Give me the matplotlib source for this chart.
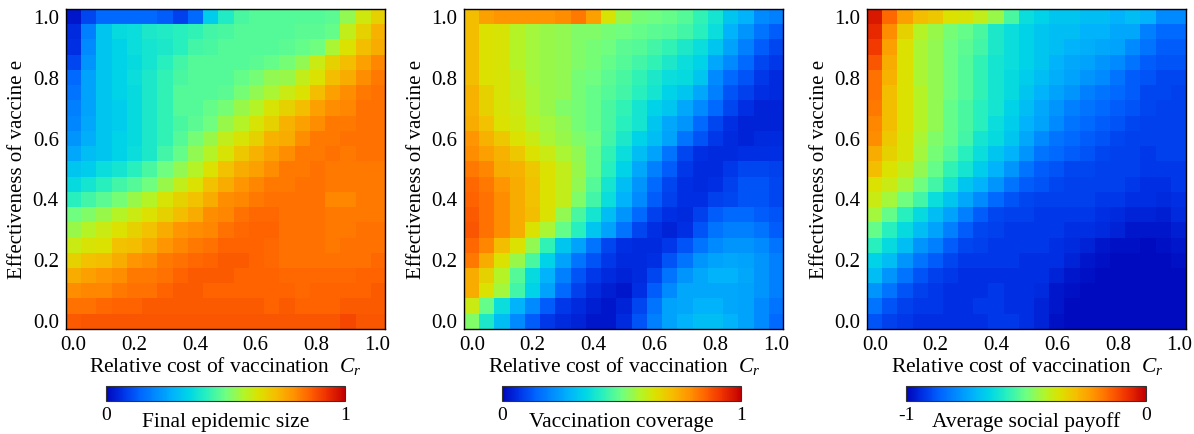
import numpy as np
import matplotlib
matplotlib.use("Agg")
import matplotlib.pyplot as plt
from matplotlib.colors import LinearSegmentedColormap

plt.rcParams['font.family'] = 'Liberation Serif'
plt.rcParams['mathtext.fontset'] = 'custom'
plt.rcParams['mathtext.rm'] = 'Liberation Serif'
plt.rcParams['mathtext.it'] = 'Liberation Serif:italic'

# grid: relative cost (columns) and vaccine effectiveness (rows, from e=1.0 down to e=0.0)
cost = np.linspace(0, 1, 21)
effect = np.linspace(1, 0, 21)
ticks = [0.0, 0.2, 0.4, 0.6, 0.8, 1.0]

final_size = [
    [0.03,0.10,0.15,0.15,0.15,0.15,0.13,0.09,0.15,0.33,0.41,0.46,0.47,0.47,0.47,0.47,0.47,0.48,0.54,0.62,0.67],
    [0.06,0.19,0.32,0.36,0.37,0.40,0.41,0.42,0.43,0.45,0.46,0.47,0.47,0.47,0.47,0.48,0.48,0.49,0.60,0.67,0.73],
    [0.07,0.21,0.32,0.34,0.37,0.39,0.40,0.42,0.45,0.46,0.47,0.47,0.47,0.47,0.48,0.49,0.50,0.57,0.64,0.71,0.74],
    [0.10,0.23,0.32,0.34,0.36,0.39,0.42,0.45,0.47,0.47,0.47,0.47,0.48,0.49,0.51,0.54,0.61,0.67,0.71,0.76,0.80],
    [0.15,0.25,0.32,0.34,0.37,0.40,0.43,0.46,0.47,0.47,0.47,0.49,0.51,0.54,0.55,0.60,0.64,0.71,0.74,0.79,0.82],
    [0.17,0.25,0.32,0.34,0.36,0.40,0.43,0.47,0.47,0.47,0.48,0.51,0.54,0.57,0.61,0.64,0.71,0.76,0.79,0.82,0.83],
    [0.19,0.25,0.32,0.33,0.36,0.40,0.43,0.47,0.47,0.49,0.51,0.55,0.58,0.63,0.67,0.71,0.76,0.79,0.80,0.83,0.83],
    [0.20,0.26,0.32,0.33,0.36,0.40,0.43,0.46,0.48,0.50,0.55,0.58,0.63,0.67,0.73,0.76,0.79,0.82,0.82,0.83,0.83],
    [0.23,0.27,0.32,0.34,0.36,0.40,0.43,0.47,0.51,0.55,0.60,0.63,0.67,0.73,0.74,0.79,0.82,0.82,0.83,0.83,0.83],
    [0.26,0.30,0.32,0.34,0.37,0.40,0.45,0.49,0.54,0.58,0.63,0.69,0.73,0.76,0.79,0.82,0.82,0.83,0.82,0.83,0.83],
    [0.32,0.33,0.37,0.39,0.42,0.46,0.50,0.54,0.58,0.64,0.70,0.74,0.76,0.79,0.82,0.82,0.83,0.82,0.82,0.82,0.82],
    [0.36,0.39,0.42,0.45,0.47,0.50,0.55,0.60,0.64,0.70,0.74,0.78,0.80,0.82,0.82,0.83,0.83,0.82,0.82,0.82,0.82],
    [0.42,0.45,0.48,0.51,0.55,0.58,0.63,0.67,0.70,0.74,0.79,0.80,0.82,0.83,0.83,0.83,0.83,0.80,0.80,0.82,0.82],
    [0.50,0.52,0.55,0.58,0.61,0.64,0.67,0.71,0.74,0.79,0.80,0.83,0.84,0.84,0.83,0.83,0.83,0.82,0.82,0.82,0.82],
    [0.55,0.58,0.61,0.64,0.67,0.70,0.74,0.78,0.79,0.80,0.83,0.84,0.85,0.85,0.83,0.83,0.83,0.82,0.82,0.83,0.83],
    [0.61,0.63,0.64,0.70,0.71,0.74,0.78,0.80,0.82,0.83,0.85,0.85,0.85,0.84,0.83,0.83,0.83,0.82,0.83,0.83,0.83],
    [0.67,0.70,0.71,0.74,0.78,0.79,0.82,0.83,0.84,0.85,0.86,0.86,0.85,0.84,0.83,0.83,0.83,0.83,0.83,0.83,0.84],
    [0.74,0.76,0.78,0.79,0.82,0.82,0.83,0.85,0.86,0.86,0.86,0.85,0.85,0.85,0.84,0.84,0.84,0.84,0.84,0.85,0.85],
    [0.79,0.80,0.80,0.82,0.83,0.83,0.85,0.86,0.86,0.85,0.85,0.85,0.85,0.85,0.85,0.84,0.85,0.85,0.85,0.85,0.86],
    [0.83,0.83,0.84,0.85,0.85,0.86,0.86,0.86,0.86,0.86,0.86,0.86,0.86,0.85,0.86,0.85,0.85,0.85,0.86,0.86,0.86],
    [0.86,0.87,0.87,0.87,0.87,0.87,0.87,0.87,0.87,0.87,0.87,0.87,0.87,0.87,0.87,0.87,0.87,0.87,0.89,0.87,0.87],
]

coverage = [
    [0.71,0.76,0.78,0.78,0.78,0.78,0.79,0.82,0.76,0.63,0.55,0.51,0.50,0.49,0.47,0.43,0.39,0.32,0.28,0.21,0.19],
    [0.71,0.64,0.63,0.58,0.56,0.55,0.54,0.52,0.52,0.51,0.50,0.49,0.48,0.47,0.45,0.42,0.37,0.28,0.23,0.17,0.13],
    [0.71,0.64,0.63,0.58,0.56,0.55,0.54,0.52,0.51,0.50,0.48,0.47,0.45,0.43,0.40,0.37,0.32,0.25,0.19,0.13,0.10],
    [0.71,0.64,0.63,0.58,0.56,0.55,0.54,0.52,0.51,0.49,0.47,0.45,0.43,0.40,0.37,0.34,0.26,0.21,0.15,0.10,0.08],
    [0.71,0.64,0.63,0.60,0.56,0.55,0.54,0.51,0.50,0.48,0.46,0.43,0.40,0.37,0.36,0.32,0.21,0.15,0.12,0.08,0.06],
    [0.73,0.67,0.63,0.60,0.57,0.55,0.54,0.51,0.49,0.47,0.45,0.42,0.39,0.34,0.32,0.26,0.19,0.12,0.09,0.07,0.06],
    [0.73,0.67,0.63,0.61,0.57,0.55,0.52,0.51,0.49,0.46,0.43,0.39,0.34,0.32,0.26,0.21,0.15,0.10,0.07,0.05,0.05],
    [0.74,0.70,0.64,0.62,0.58,0.56,0.54,0.51,0.49,0.46,0.42,0.39,0.32,0.26,0.23,0.15,0.10,0.07,0.05,0.05,0.05],
    [0.78,0.73,0.69,0.64,0.61,0.57,0.55,0.52,0.50,0.45,0.40,0.34,0.30,0.25,0.17,0.12,0.08,0.06,0.05,0.06,0.06],
    [0.79,0.76,0.73,0.69,0.64,0.61,0.57,0.54,0.49,0.43,0.37,0.30,0.25,0.17,0.10,0.07,0.06,0.06,0.07,0.07,0.07],
    [0.82,0.80,0.74,0.73,0.69,0.64,0.60,0.55,0.49,0.42,0.34,0.26,0.19,0.13,0.08,0.06,0.06,0.08,0.10,0.10,0.09],
    [0.84,0.82,0.78,0.74,0.70,0.64,0.60,0.54,0.47,0.39,0.30,0.23,0.15,0.10,0.07,0.06,0.07,0.09,0.12,0.12,0.10],
    [0.85,0.83,0.79,0.74,0.70,0.64,0.60,0.52,0.45,0.37,0.28,0.21,0.13,0.09,0.07,0.07,0.09,0.10,0.12,0.12,0.10],
    [0.86,0.83,0.79,0.74,0.71,0.64,0.54,0.46,0.39,0.30,0.23,0.15,0.09,0.07,0.06,0.09,0.13,0.15,0.15,0.13,0.12],
    [0.87,0.83,0.79,0.74,0.64,0.57,0.49,0.42,0.32,0.25,0.17,0.10,0.07,0.05,0.07,0.12,0.17,0.19,0.19,0.17,0.13],
    [0.84,0.80,0.71,0.64,0.54,0.43,0.32,0.25,0.17,0.10,0.07,0.06,0.06,0.08,0.12,0.17,0.21,0.23,0.23,0.21,0.17],
    [0.82,0.74,0.64,0.55,0.46,0.34,0.25,0.17,0.12,0.08,0.06,0.06,0.07,0.12,0.17,0.23,0.25,0.26,0.25,0.23,0.19],
    [0.74,0.67,0.58,0.47,0.36,0.28,0.19,0.12,0.08,0.06,0.05,0.06,0.10,0.17,0.23,0.26,0.28,0.28,0.26,0.23,0.19],
    [0.74,0.64,0.56,0.45,0.34,0.25,0.15,0.09,0.06,0.04,0.03,0.07,0.13,0.21,0.26,0.26,0.26,0.26,0.25,0.23,0.19],
    [0.61,0.49,0.37,0.28,0.21,0.13,0.08,0.06,0.04,0.03,0.05,0.10,0.17,0.25,0.26,0.28,0.28,0.26,0.25,0.21,0.17],
    [0.52,0.40,0.30,0.21,0.13,0.08,0.06,0.05,0.03,0.03,0.06,0.12,0.19,0.25,0.28,0.30,0.30,0.28,0.25,0.21,0.15],
]

payoff = [
    [-0.04,-0.16,-0.24,-0.29,-0.31,-0.36,-0.37,-0.40,-0.45,-0.54,-0.63,-0.66,-0.68,-0.68,-0.70,-0.70,-0.72,-0.70,-0.72,-0.79,-0.79],
    [-0.07,-0.21,-0.33,-0.42,-0.45,-0.49,-0.51,-0.54,-0.60,-0.63,-0.66,-0.68,-0.70,-0.70,-0.72,-0.72,-0.74,-0.74,-0.81,-0.85,-0.85],
    [-0.09,-0.24,-0.36,-0.43,-0.46,-0.50,-0.52,-0.55,-0.60,-0.63,-0.66,-0.68,-0.70,-0.72,-0.73,-0.74,-0.75,-0.79,-0.83,-0.87,-0.87],
    [-0.13,-0.26,-0.36,-0.43,-0.46,-0.50,-0.53,-0.57,-0.61,-0.63,-0.66,-0.68,-0.72,-0.74,-0.75,-0.77,-0.79,-0.83,-0.87,-0.88,-0.88],
    [-0.17,-0.27,-0.36,-0.43,-0.46,-0.50,-0.53,-0.57,-0.61,-0.64,-0.67,-0.70,-0.73,-0.75,-0.77,-0.79,-0.83,-0.87,-0.88,-0.90,-0.90],
    [-0.17,-0.29,-0.36,-0.42,-0.46,-0.50,-0.53,-0.57,-0.61,-0.64,-0.68,-0.72,-0.75,-0.77,-0.81,-0.83,-0.85,-0.87,-0.90,-0.90,-0.91],
    [-0.18,-0.29,-0.36,-0.42,-0.46,-0.51,-0.54,-0.58,-0.61,-0.66,-0.70,-0.74,-0.77,-0.81,-0.83,-0.85,-0.87,-0.88,-0.90,-0.91,-0.91],
    [-0.20,-0.29,-0.36,-0.42,-0.46,-0.51,-0.54,-0.58,-0.63,-0.67,-0.72,-0.75,-0.79,-0.83,-0.85,-0.87,-0.88,-0.90,-0.91,-0.91,-0.91],
    [-0.21,-0.31,-0.37,-0.43,-0.48,-0.51,-0.55,-0.61,-0.64,-0.68,-0.74,-0.79,-0.83,-0.85,-0.87,-0.88,-0.90,-0.91,-0.91,-0.91,-0.91],
    [-0.26,-0.33,-0.37,-0.44,-0.49,-0.53,-0.58,-0.63,-0.68,-0.72,-0.77,-0.83,-0.85,-0.87,-0.88,-0.90,-0.91,-0.91,-0.92,-0.91,-0.91],
    [-0.29,-0.36,-0.40,-0.46,-0.51,-0.57,-0.61,-0.67,-0.72,-0.77,-0.83,-0.87,-0.88,-0.90,-0.90,-0.91,-0.91,-0.91,-0.92,-0.92,-0.92],
    [-0.36,-0.39,-0.44,-0.50,-0.55,-0.61,-0.68,-0.72,-0.77,-0.83,-0.87,-0.88,-0.90,-0.91,-0.91,-0.91,-0.91,-0.92,-0.93,-0.93,-0.92],
    [-0.39,-0.44,-0.50,-0.55,-0.63,-0.68,-0.74,-0.79,-0.85,-0.88,-0.90,-0.91,-0.91,-0.91,-0.91,-0.92,-0.92,-0.93,-0.93,-0.94,-0.93],
    [-0.44,-0.51,-0.58,-0.64,-0.70,-0.75,-0.81,-0.87,-0.90,-0.91,-0.91,-0.92,-0.92,-0.92,-0.92,-0.93,-0.94,-0.95,-0.95,-0.96,-0.94],
    [-0.51,-0.58,-0.64,-0.70,-0.75,-0.81,-0.87,-0.90,-0.91,-0.92,-0.92,-0.92,-0.92,-0.93,-0.93,-0.94,-0.95,-0.97,-0.97,-0.97,-0.96],
    [-0.58,-0.64,-0.70,-0.77,-0.81,-0.87,-0.90,-0.91,-0.92,-0.92,-0.92,-0.92,-0.93,-0.94,-0.95,-0.97,-0.98,-0.98,-0.99,-0.98,-0.97],
    [-0.66,-0.70,-0.77,-0.83,-0.87,-0.90,-0.92,-0.92,-0.92,-0.92,-0.93,-0.93,-0.93,-0.95,-0.97,-0.98,-0.99,-0.99,-0.99,-0.99,-0.98],
    [-0.70,-0.77,-0.83,-0.88,-0.91,-0.92,-0.93,-0.93,-0.93,-0.93,-0.93,-0.93,-0.95,-0.97,-0.98,-0.99,-0.99,-0.99,-0.99,-0.99,-0.99],
    [-0.77,-0.83,-0.88,-0.91,-0.92,-0.93,-0.93,-0.93,-0.92,-0.93,-0.93,-0.94,-0.97,-0.98,-0.99,-0.99,-0.99,-0.99,-0.99,-0.99,-0.99],
    [-0.83,-0.88,-0.91,-0.92,-0.92,-0.93,-0.93,-0.92,-0.92,-0.93,-0.93,-0.95,-0.97,-0.99,-0.99,-0.99,-0.99,-0.99,-0.99,-0.99,-0.99],
    [-0.88,-0.91,-0.92,-0.93,-0.93,-0.93,-0.93,-0.93,-0.92,-0.92,-0.93,-0.95,-0.98,-0.99,-0.99,-0.99,-0.99,-0.99,-0.99,-0.99,-0.99],
]

panels = [
    (final_size, 0, 1, "Final epidemic size", ["0", "1"]),
    (coverage, 0, 1, "Vaccination coverage", ["0", "1"]),
    (payoff, -1, 0, "Average social payoff", ["-1", "0"]),
]

# jet-like map, lighter at both ends
jet = LinearSegmentedColormap.from_list("softjet", [
    (0.00, "#0005b9"), (0.07, "#0032e6"), (0.14, "#0064ff"), (0.21, "#008cff"),
    (0.28, "#00b4fa"), (0.35, "#00d7e6"), (0.42, "#28f0be"), (0.50, "#6eff82"),
    (0.58, "#b4f528"), (0.64, "#dce100"), (0.71, "#f5be00"), (0.78, "#ff9600"),
    (0.85, "#ff6400"), (0.92, "#f03200"), (1.00, "#c30000")])

fig = plt.figure(figsize=(11.94, 4.34), dpi=100)

ax_lefts = [65.7, 464.3, 867.3]
cb_lefts = [105.7, 501.7, 906.3]
W, H = 1194.0, 434.0

step = cost[1] - cost[0]
ext = [cost[0] - step / 2, cost[-1] + step / 2, effect[-1] - step / 2, effect[0] + step / 2]

for (vals, lo, hi, name, cb_ticks), axl, cbl in zip(panels, ax_lefts, cb_lefts):
    ax = fig.add_axes([axl / W, (H - 329) / H, 319 / W, 320 / H])
    im = ax.imshow(np.array(vals), cmap=jet, vmin=lo, vmax=hi, extent=ext,
                   origin='upper', aspect='auto', interpolation='nearest')
    ax.set_xticks(ticks)
    ax.set_yticks(ticks)
    ax.set_xticklabels(["%.1f" % t for t in ticks])
    ax.set_yticklabels(["%.1f" % t for t in ticks])
    ax.tick_params(length=0, labelsize=15, pad=5)
    ax.set_xlabel(r"Relative cost of vaccination  $C_r$", fontsize=15.5, labelpad=0)
    ax.set_ylabel("Effectiveness of vaccine e", fontsize=15, labelpad=4)
    for s in ax.spines.values():
        s.set_linewidth(1.0)

    cax = fig.add_axes([cbl / W, (H - 401) / H, 239.5 / W, 15.3 / H])
    cb = fig.colorbar(im, cax=cax, orientation='horizontal')
    cb.set_ticks([])
    cb.outline.set_linewidth(0.8)
    cb.outline.set_edgecolor('#333333')
    cax.text(0, -0.95, cb_ticks[0], transform=cax.transAxes, ha='center', va='center', fontsize=14)
    cax.text(1, -0.95, cb_ticks[1], transform=cax.transAxes, ha='center', va='center', fontsize=14)
    cax.text(0.5, -1.4, name, transform=cax.transAxes, ha='center', va='center', fontsize=15.5)

fig.savefig("out.png", dpi=100)
